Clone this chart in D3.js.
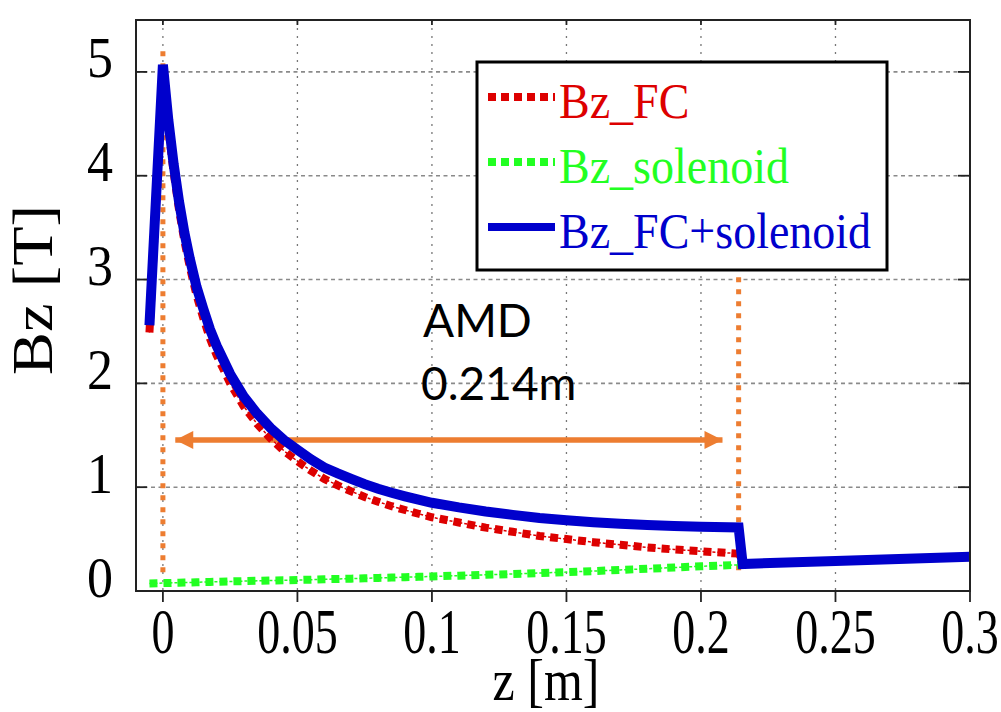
<!DOCTYPE html>
<html>
<head>
<meta charset="utf-8">
<script src="https://cdn.jsdelivr.net/npm/d3@7"></script>
<style>
  html, body { margin: 0; padding: 0; background: #fff; }
  svg { display: block; }
</style>
</head>
<body>
<svg id="chart" width="1001" height="712"></svg>
<script>
// ---- data ----
const zFC = [-0.005, 0, 0.002, 0.004, 0.006, 0.008, 0.01, 0.0125, 0.015, 0.0175, 0.02, 0.025, 0.03, 0.035, 0.04, 0.045, 0.05, 0.055, 0.06, 0.065, 0.07, 0.075, 0.08, 0.085, 0.09, 0.095, 0.1, 0.11, 0.12, 0.13, 0.14, 0.15, 0.16, 0.17, 0.18, 0.19, 0.2, 0.214];
const bzFC = [2.49, 5.00, 4.46, 4.03, 3.67, 3.37, 3.12, 2.85, 2.63, 2.43, 2.27, 2.00, 1.78, 1.61, 1.47, 1.35, 1.25, 1.159, 1.08, 1.017, 0.96, 0.906, 0.86, 0.817, 0.78, 0.744, 0.71, 0.66, 0.61, 0.57, 0.53, 0.50, 0.47, 0.445, 0.42, 0.40, 0.383, 0.36];
const bzSolenoid = [0.073, 0.076, 0.077, 0.079, 0.080, 0.081, 0.082, 0.084, 0.086, 0.087, 0.089, 0.092, 0.095, 0.098, 0.101, 0.103, 0.106, 0.109, 0.113, 0.116, 0.119, 0.1225, 0.126, 0.1295, 0.133, 0.1365, 0.140, 0.148, 0.156, 0.164, 0.173, 0.182, 0.192, 0.203, 0.214, 0.226, 0.238, 0.252];
const zTotal = [-0.005, 0, 0.002, 0.004, 0.006, 0.008, 0.01, 0.0125, 0.015, 0.0175, 0.02, 0.025, 0.03, 0.035, 0.04, 0.045, 0.05, 0.055, 0.06, 0.065, 0.07, 0.075, 0.08, 0.085, 0.09, 0.095, 0.1, 0.11, 0.12, 0.13, 0.14, 0.15, 0.16, 0.17, 0.18, 0.19, 0.2, 0.214, 0.2155, 0.25, 0.3];
const bzTotal = [2.56, 5.07, 4.54, 4.11, 3.75, 3.45, 3.20, 2.93, 2.72, 2.52, 2.36, 2.09, 1.875, 1.71, 1.57, 1.455, 1.36, 1.268, 1.19, 1.133, 1.08, 1.029, 0.985, 0.947, 0.912, 0.88, 0.85, 0.805, 0.766, 0.733, 0.704, 0.682, 0.663, 0.648, 0.635, 0.626, 0.62, 0.612, 0.26, 0.29, 0.33];

const xTicks = [0, 0.05, 0.1, 0.15, 0.2, 0.25, 0.3];
const xTickLabels = ["0", "0.05", "0.1", "0.15", "0.2", "0.25", "0.3"];
const yTicks = [0, 1, 2, 3, 4, 5];
const yTickLabels = ["0", "1", "2", "3", "4", "5"];

const seriesNames = ["Bz_FC", "Bz_solenoid", "Bz_FC+solenoid"];
const seriesColors = ["#dd0000", "#22ff22", "#0000cc"];

// annotation (AMD marker) values in data units
const amdZ = [0, 0.214];          // vertical dotted markers
const amdMarkTop = [5.26, 3.08];
const amdMarkBottom = [0.18, 0.2];
const arrowZ = [0.0046, 0.208];
const arrowBz = 1.455;
const amdText = ["AMD", "0.214m"];

// ---- layout ----
const svg = d3.select("#chart");
const L = 136, R = 970, T = 20, B = 591;
const x = d3.scaleLinear().domain([-0.01, 0.3]).range([L, R]);
const y = d3.scaleLinear().domain([0, 5.5]).range([B, T]);

const serif = "'Liberation Serif', 'Times New Roman', serif";

// grid
const grid = svg.append("g");
grid.selectAll("line.h").data(yTicks.filter(v => v > 0)).enter().append("line")
  .attr("x1", L).attr("x2", R).attr("y1", d => y(d)).attr("y2", d => y(d))
  .attr("stroke", "#8a8a8a").attr("stroke-width", 1.6).attr("stroke-dasharray", "4,3.5");
grid.selectAll("line.v").data(xTicks.filter(v => v < 0.3)).enter().append("line")
  .attr("x1", d => x(d)).attr("x2", d => x(d)).attr("y1", T).attr("y2", B)
  .attr("stroke", "#777").attr("stroke-width", 1.3).attr("stroke-dasharray", "2,6");

// orange AMD markers
const orange = "#ed7d31";
svg.append("g").selectAll("line").data(amdZ).enter().append("line")
  .attr("x1", d => x(d)).attr("x2", d => x(d))
  .attr("y1", (d, i) => y(amdMarkBottom[i])).attr("y2", (d, i) => y(amdMarkTop[i]))
  .attr("stroke", orange).attr("stroke-width", 5).attr("stroke-dasharray", "5,7");

// arrow
const defs = svg.append("defs");
["start", "end"].forEach(k => {
  defs.append("marker").attr("id", "arr-" + k)
    .attr("viewBox", "0 0 10 10").attr("refX", k === "end" ? 10 : 0).attr("refY", 5)
    .attr("markerWidth", 20).attr("markerHeight", 18).attr("markerUnits", "userSpaceOnUse")
    .attr("orient", "auto")
    .append("path").attr("d", k === "end" ? "M0,0 L10,5 L0,10 Z" : "M10,0 L0,5 L10,10 Z")
    .attr("fill", orange);
});
svg.append("line")
  .attr("x1", x(arrowZ[0])).attr("x2", x(arrowZ[1]))
  .attr("y1", y(arrowBz)).attr("y2", y(arrowBz))
  .attr("stroke", orange).attr("stroke-width", 5.5)
  .attr("marker-start", "url(#arr-start)").attr("marker-end", "url(#arr-end)");

// series
const line = d3.line().x(d => x(d[0])).y(d => y(d[1])).curve(d3.curveLinear);
const fcPts = zFC.map((z, i) => [z, bzFC[i]]);
const solPts = zFC.map((z, i) => [z, bzSolenoid[i]]);
const totPts = zTotal.map((z, i) => [z, bzTotal[i]]);

function dotted(pts, color) {
  svg.append("path").attr("d", line(pts)).attr("fill", "none")
    .attr("stroke", color).attr("stroke-width", 1.5).attr("stroke-dasharray", "3,2");
  svg.append("path").attr("d", line(pts)).attr("fill", "none")
    .attr("stroke", color).attr("stroke-width", 8).attr("stroke-dasharray", "8,6");
}
dotted(solPts, seriesColors[1]);
dotted(fcPts, seriesColors[0]);
svg.append("path").attr("d", line(totPts)).attr("fill", "none")
  .attr("stroke", seriesColors[2]).attr("stroke-width", 10).attr("stroke-linejoin", "miter");

// frame
svg.append("rect").attr("x", L).attr("y", T).attr("width", R - L).attr("height", B - T)
  .attr("fill", "none").attr("stroke", "#222").attr("stroke-width", 2);

// ticks
const ticks = svg.append("g").attr("stroke", "#222").attr("stroke-width", 1.8);
yTicks.forEach(v => {
  ticks.append("line").attr("x1", L).attr("x2", L + 11).attr("y1", y(v)).attr("y2", y(v));
  ticks.append("line").attr("x1", R).attr("x2", R - 12).attr("y1", y(v)).attr("y2", y(v));
});
xTicks.forEach(v => {
  ticks.append("line").attr("x1", x(v)).attr("x2", x(v)).attr("y1", B).attr("y2", B + 11);
  ticks.append("line").attr("x1", x(v)).attr("x2", x(v)).attr("y1", T).attr("y2", T + 5);
});

// tick labels
yTicks.forEach((v, i) => {
  svg.append("g").attr("transform", `translate(113,${y(v) + 5.5}) scale(1,1.08)`)
    .append("text").attr("text-anchor", "end").attr("font-family", serif)
    .attr("font-size", 52).attr("fill", "#000").text(yTickLabels[i]);
});
xTicks.forEach((v, i) => {
  svg.append("g").attr("transform", `translate(${x(v)},653) scale(1,1.4)`)
    .append("text").attr("text-anchor", "middle").attr("font-family", serif)
    .attr("font-size", 46).attr("fill", "#000").text(xTickLabels[i]);
});

// axis titles
svg.append("g").attr("transform", "translate(546,700) scale(1,1.18)")
  .append("text").attr("text-anchor", "middle").attr("font-family", serif)
  .attr("font-size", 50).attr("fill", "#000").text("z [m]");
svg.append("g").attr("transform", "translate(52,290) rotate(-90) scale(1.15,1)")
  .append("text").attr("text-anchor", "middle").attr("font-family", serif)
  .attr("font-size", 56).attr("fill", "#000").text("Bz [T]");

// AMD text
const sans = "Lato, 'Open Sans', sans-serif";
svg.append("text").attr("x", 423).attr("y", 337).attr("font-family", sans)
  .attr("font-size", 46).attr("fill", "#000").text(amdText[0]);
svg.append("text").attr("x", 421).attr("y", 400).attr("font-family", sans)
  .attr("font-size", 46).attr("fill", "#000").text(amdText[1]);

// legend
const lg = svg.append("g");
lg.append("rect").attr("x", 477).attr("y", 62).attr("width", 410).attr("height", 208)
  .attr("fill", "#fff").attr("stroke", "#000").attr("stroke-width", 3);
const rowY = [97, 162, 227];
seriesNames.forEach((name, i) => {
  const l = lg.append("line").attr("x1", 488).attr("x2", 555).attr("y1", rowY[i]).attr("y2", rowY[i])
    .attr("stroke", seriesColors[i]).attr("stroke-width", 8);
  if (i < 2) l.attr("stroke-dasharray", "8,5");
  lg.append("g").attr("transform", `translate(559,${rowY[i] + 21}) scale(1,1.08)`)
    .append("text").attr("font-family", serif).attr("font-size", 46)
    .attr("fill", seriesColors[i]).text(name);
});
</script>
</body>
</html>
